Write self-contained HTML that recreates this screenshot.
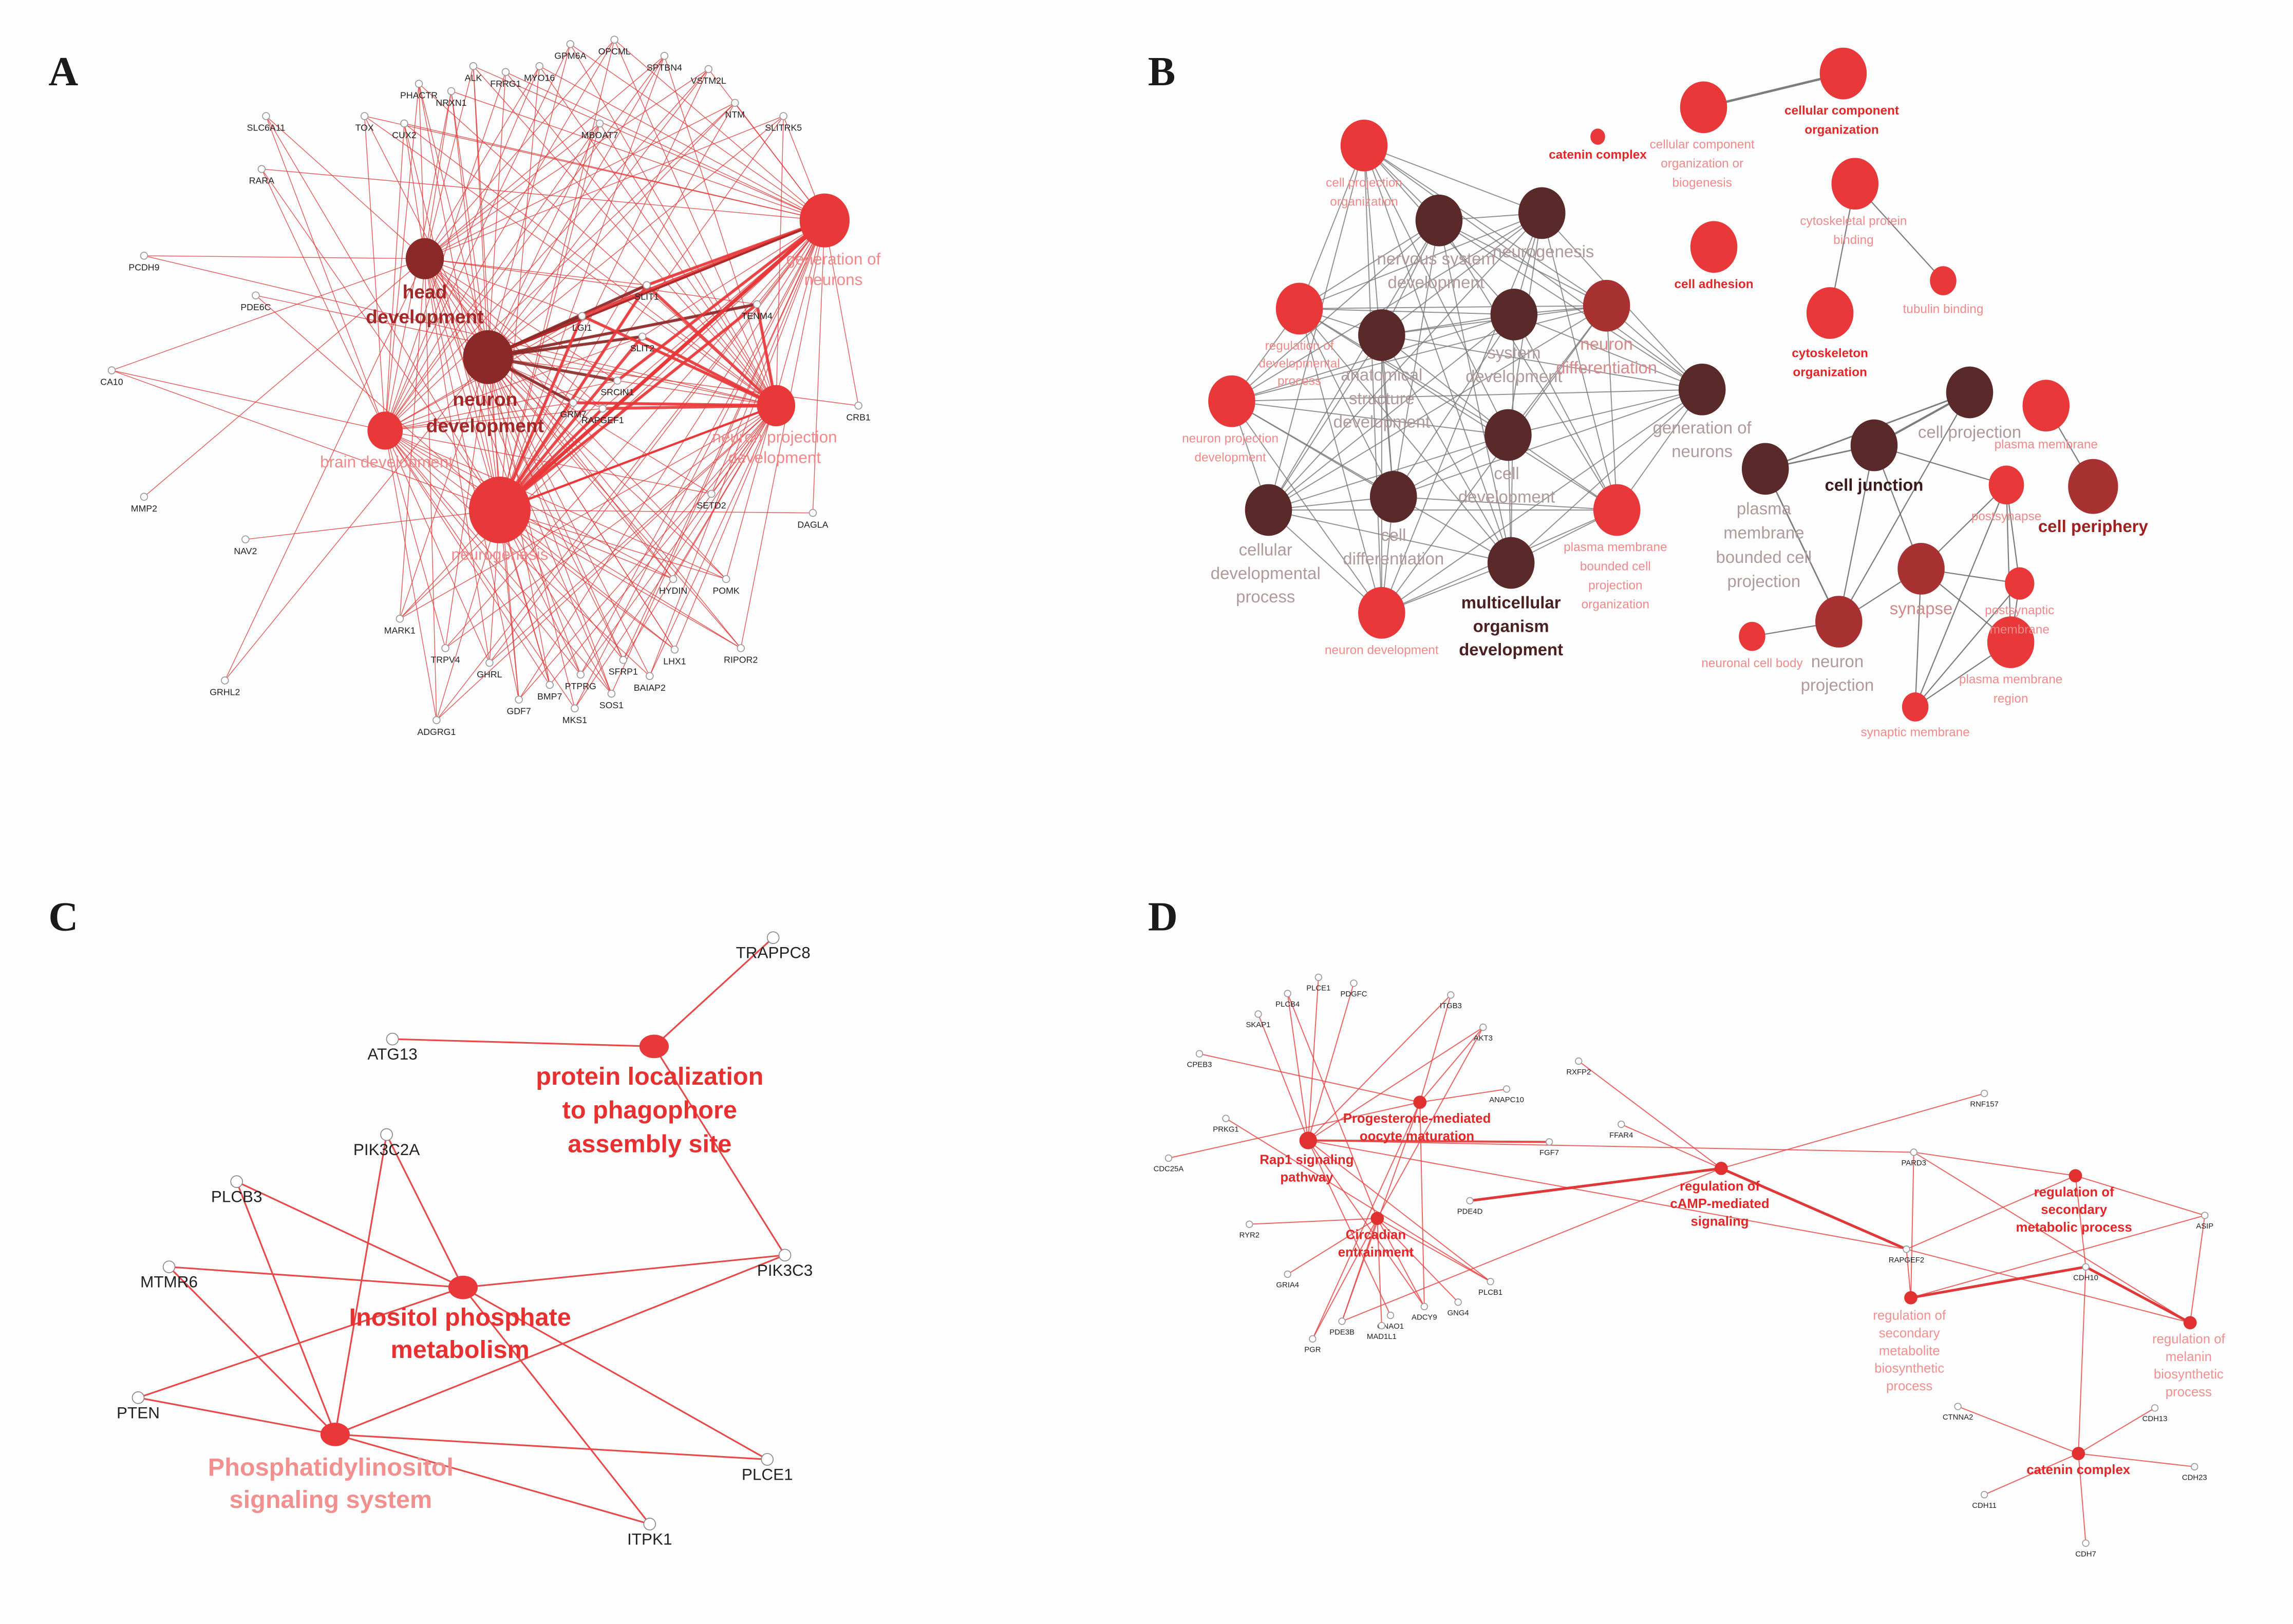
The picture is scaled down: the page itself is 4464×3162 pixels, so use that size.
<!DOCTYPE html>
<html><head><meta charset="utf-8"><style>
html,body{margin:0;padding:0;background:#fdfdfd;}
svg{display:block;}
text{font-family:"Liberation Sans",Arial,sans-serif;}
text.pl{font-family:"Liberation Serif","DejaVu Serif",serif;font-weight:bold;}
</style></head><body>
<svg id="s" xmlns="http://www.w3.org/2000/svg" width="4464" height="3162" viewBox="0 0 1560 1105" preserveAspectRatio="none">
<rect x="0" y="0" width="1560" height="1105" fill="#fdfdfd"/>
<g font-size="28" fill="#1a1a1a">
<text class="pl" x="33" y="58">A</text><text class="pl" x="781" y="58">B</text><text class="pl" x="33" y="633">C</text><text class="pl" x="781" y="633">D</text>
</g>
<g id="g"></g>
</svg>
<script>
var out=[];
function L(x1,y1,x2,y2,c,w,o){out.push('<line x1="'+x1+'" y1="'+y1+'" x2="'+x2+'" y2="'+y2+'" stroke="'+c+'" stroke-width="'+w+'" stroke-opacity="'+(o||1)+'"/>');}
function C(x,y,r,f,s){out.push('<circle cx="'+x+'" cy="'+y+'" r="'+r+'" fill="'+f+'"'+(s?' stroke="'+s+'" stroke-width="0.6"':'')+'/>');}
function T(x,y,t,sz,c,b){out.push('<text x="'+x+'" y="'+y+'" font-size="'+sz+'" fill="'+c+'" text-anchor="middle"'+(b?' font-weight="bold"':'')+'>'+t+'</text>');}
function ML(x,y,lines,sz,c,b,lh){for(var i=0;i<lines.length;i++)T(x,y+i*lh,lines[i],sz,c,b);}
var RED='#e8383a',DARK='#5a2a2a',MED='#a83232';
/* ---------- Panel A ---------- */
var hubs=[[289,176,13,'#8b2828'],[332,243,17,'#8b2828'],[561,150,17,RED],[528,276,13,RED],[262,293,12,RED],[340,347,21,RED]];
var genes=[['GPM6A',388,30],['OPCML',418,27],['SPTBN4',452,38],['VSTM2L',482,47],['ALK',322,45],['FRRG1',344,49],['MYO16',367,45],['PHACTR',285,57],['NRXN1',307,62],['SLC6A11',181,79],['TOX',248,79],['CUX2',275,84],['MBOAT7',408,84],['NTM',500,70],['SLITRK5',533,79],['RARA',178,115],['PCDH9',98,174],['PDE6C',174,201],['CA10',76,252],['MMP2',98,338],['NAV2',167,367],['GRHL2',153,463],['LGI1',396,215],['SLIT1',440,194],['TENM4',515,207],['SLIT2',437,229],['SRCIN1',420,259],['GRM7',390,274],['RAPGEF1',410,278],['CRB1',584,276],['SETD2',484,336],['DAGLA',553,349],['HYDIN',458,394],['POMK',494,394],['MARK1',272,421],['TRPV4',303,441],['GHRL',333,451],['LHX1',459,442],['RIPOR2',504,441],['SFRP1',424,449],['BAIAP2',442,460],['PTPRG',395,459],['BMP7',374,466],['SOS1',416,472],['GDF7',353,476],['MKS1',391,482],['ADGRG1',297,490]];
var sparse={PCDH9:[0,3],CA10:[0,4,5],MMP2:[0],NAV2:[5],GRHL2:[0,1],PDE6C:[3,5],DAGLA:[5,2],CRB1:[2,1],SLC6A11:[4,5,0],RARA:[2,4,5]};
for(var i=0;i<genes.length;i++){var g=genes[i];var hs=sparse[g[0]];
 if(!hs){hs=[];for(var h=0;h<6;h++){if(((i*7+h*3)%5)!=0)hs.push(h);}}
 for(var k=0;k<hs.length;k++){var H=hubs[hs[k]];L(g[1],g[2],H[0],H[1],'#e23c3c',0.5,0.85);}
}
var thick=[[1,'LGI1','#8b2828'],[1,'SLIT2','#8b2828'],[1,'TENM4','#8b2828'],[1,'SRCIN1','#8b2828'],[1,'GRM7','#8b2828'],[1,'SLIT1','#8b2828'],[2,'SLIT1',RED],[2,'LGI1',RED],[5,'SLIT1',RED],[5,'LGI1',RED],[5,'SLIT2',RED],[3,'RAPGEF1',RED],[3,'GRM7',RED],[3,'SLIT2',RED],[3,'LGI1',RED],[3,'SLIT1',RED],[5,'TENM4',RED],[2,'SRCIN1',RED],[3,'TENM4',RED],[5,'RAPGEF1',RED]];
function gp(n){for(var i=0;i<genes.length;i++)if(genes[i][0]==n)return genes[i];}
thick.forEach(function(t){var H=hubs[t[0]],g=gp(t[1]);L(H[0],H[1],g[1],g[2],t[2],2,0.9);});
L(340,347,561,150,RED,2.5);L(340,347,528,276,RED,1.5);L(332,243,561,150,'#b02a2a',1.5);
genes.forEach(function(g){C(g[1],g[2],2.4,'#fff','#999');T(g[1],g[2]+10,g[0],6.2,'#222');});
hubs.forEach(function(h){out.push('<ellipse cx="'+h[0]+'" cy="'+h[1]+'" rx="'+h[2]+'" ry="'+(h[2]*1.08)+'" fill="'+h[3]+'"/>');});
ML(289,203,['head','development'],13,'#a02828',true,17);
ML(330,276,['neuron','development'],13,'#a02828',true,18);
ML(567,180,['generation of','neurons'],11,'#f08a8a',false,14);
ML(527,301,['neuron projection','development'],11,'#f08a8a',false,14);
T(263,318,'brain development',11,'#f08a8a');
T(340,381,'neurogenesis',11,'#f08a8a');
/* ---------- Panel B ---------- */
var B={cco:[1254,50,16,RED],ccob:[1159,73,16,RED],cat:[1087,93,5,RED],cpo:[928,99,16,RED],cpb:[1262,125,16,RED],ca:[1166,168,16,RED],tb:[1322,191,9,RED],cyo:[1245,213,16,RED],
nsd:[979,150,16,DARK],ng:[1049,145,16,DARK],rdp:[884,210,16,RED],asd:[940,228,16,DARK],sd:[1030,214,16,DARK],nd:[1093,208,16,MED],gn:[1158,265,16,DARK],npd:[838,273,16,RED],cd:[1026,296,16,DARK],cdf:[948,338,16,DARK],cdp:[863,347,16,DARK],pmb:[1100,347,16,RED],ndv:[940,417,16,RED],mod:[1028,383,16,DARK],
cp:[1340,267,16,DARK],pm:[1392,276,16,RED],cj:[1275,303,16,DARK],pbcp:[1201,319,16,DARK],ps:[1365,330,12,RED],cper:[1424,331,17,MED],syn:[1307,387,16,MED],psm:[1374,397,10,RED],np:[1251,423,16,MED],pmr:[1368,437,16,RED],ncb:[1192,433,9,RED],sm:[1303,481,9,RED]};
var dense=['cpo','nsd','ng','rdp','asd','sd','nd','gn','npd','cd','cdf','cdp','pmb','ndv','mod'];
for(var a=0;a<dense.length;a++)for(var b=a+1;b<dense.length;b++){if((a*5+b*3)%4==0)continue;var p=B[dense[a]],q=B[dense[b]];L(p[0],p[1],q[0],q[1],'#777',0.7,0.8);}
[['cco','ccob',1.6],['cpb','cyo',0.8],['cpb','tb',0.8],['cp','cj',1.4],['cp','pbcp',1],['cj','pbcp',1],['cj','syn',0.8],['cj','ps',0.8],['cp','np',0.8],['pbcp','np',1],['np','syn',0.8],['np','ncb',0.8],['np','cj',0.8],['syn','ps',0.8],['syn','psm',0.8],['syn','sm',0.8],['ps','psm',0.8],['ps','pmr',0.8],['ps','sm',0.8],['psm','sm',0.8],['pmr','sm',0.8],['pmr','syn',0.8],['pm','cper',0.8],['psm','pmr',0.8]].forEach(function(e){var p=B[e[0]],q=B[e[1]];L(p[0],p[1],q[0],q[1],'#666',e[2],0.85);});
for(var k in B){var n=B[k];out.push('<ellipse cx="'+n[0]+'" cy="'+n[1]+'" rx="'+n[2]+'" ry="'+(n[2]*1.1)+'" fill="'+n[3]+'"/>');}
var PK='#f08a8a',GR='#b09a9a',BR='#e02828';
ML(1253,78,['cellular component','organization'],8.5,BR,true,13);
ML(1158,101,['cellular component','organization or','biogenesis'],8.5,PK,false,13);
T(1087,108,'catenin complex',8.5,BR,true);
ML(928,127,['cell projection','organization'],8.5,PK,false,13);
ML(1261,153,['cytoskeletal protein','binding'],8.5,PK,false,13);
T(1166,196,'cell adhesion',8.5,BR,true);
T(1322,213,'tubulin binding',8.5,PK);
ML(1245,243,['cytoskeleton','organization'],8.5,BR,true,13);
ML(977,180,['nervous system','development'],11.5,GR,false,16);
T(1050,175,'neurogenesis',11.5,GR);
ML(884,238,['regulation of','developmental','process'],8.5,PK,false,12);
ML(940,259,['anatomical','structure','development'],11.5,GR,false,16);
ML(1030,244,['system','development'],11.5,GR,false,16);
ML(1093,238,['neuron','differentiation'],11.5,'#d88a8a',false,16);
ML(1158,295,['generation of','neurons'],11.5,GR,false,16);
ML(837,301,['neuron projection','development'],8.5,PK,false,13);
ML(1025,326,['cell','development'],11.5,GR,false,16);
ML(948,368,['cell','differentiation'],11.5,GR,false,16);
ML(861,378,['cellular','developmental','process'],11.5,GR,false,16);
ML(1099,375,['plasma membrane','bounded cell','projection','organization'],8.5,PK,false,13);
T(940,445,'neuron development',8.5,PK);
ML(1028,414,['multicellular','organism','development'],11.5,'#4a2020',true,16);
T(1340,298,'cell projection',11.5,GR);
T(1392,305,'plasma membrane',8.5,PK);
T(1275,334,'cell junction',11.5,'#3a1a1a',true);
ML(1200,350,['plasma','membrane','bounded cell','projection'],11.5,GR,false,16.5);
T(1365,354,'postsynapse',8.5,PK);
T(1424,362,'cell periphery',11.5,'#a02020',true);
T(1307,418,'synapse',11.5,'#d08a8a');
ML(1374,418,['postsynaptic','membrane'],8.5,PK,false,13);
ML(1250,454,['neuron','projection'],11.5,GR,false,16);
ML(1368,465,['plasma membrane','region'],8.5,PK,false,13);
T(1192,454,'neuronal cell body',8.5,PK);
T(1303,501,'synaptic membrane',8.5,PK);
/* ---------- Panel C ---------- */
var CN={prot:[445,712],ino:[315,876],pis:[228,976]};
var CG={TRAPPC8:[526,638],ATG13:[267,707],PIK3C2A:[263,772],PLCB3:[161,804],MTMR6:[115,862],PIK3C3:[534,854],PTEN:[94,951],PLCE1:[522,993],ITPK1:[442,1037]};
[['ATG13','prot'],['TRAPPC8','prot'],['PIK3C3','prot'],['PIK3C2A','ino'],['PIK3C2A','pis'],['PLCB3','ino'],['PLCB3','pis'],['MTMR6','ino'],['MTMR6','pis'],['PTEN','ino'],['PTEN','pis'],['PIK3C3','ino'],['PIK3C3','pis'],['PLCE1','ino'],['PLCE1','pis'],['ITPK1','ino'],['ITPK1','pis']].forEach(function(e){var p=CG[e[0]],q=CN[e[1]];L(p[0],p[1],q[0],q[1],'#e84848',1.1);});
for(var k in CG){var p=CG[k];C(p[0],p[1],4,'#fff','#888');T(p[0],p[1]+14,k,11,'#222');}
out.push('<ellipse cx="445" cy="712" rx="10" ry="8" fill="'+RED+'"/><ellipse cx="315" cy="876" rx="10" ry="8" fill="'+RED+'"/><ellipse cx="228" cy="976" rx="10" ry="8" fill="'+RED+'"/>');
ML(442,738,['protein localization','to phagophore','assembly site'],17,'#e83030',true,23);
ML(313,902,['Inositol phosphate','metabolism'],17,'#e83030',true,22);
ML(225,1004,['Phosphatidylinositol','signaling system'],17,'#f29090',true,22);
/* ---------- Panel D ---------- */
var DN={rap:[890,776,6],prog:[966,750,4.5],circ:[937,829,4.5],camp:[1171,795,4.5],rsmp:[1412,800,4.5],rsmb:[1300,883,4.5],mel:[1490,900,4.5],cat:[1414,989,4.5]};
var DG={PLCB4:[876,676],PLCE1:[897,665],PDGFC:[921,669],ITGB3:[987,677],SKAP1:[856,690],AKT3:[1009,699],CPEB3:[816,717],ANAPC10:[1025,741],RXFP2:[1074,722],RNF157:[1350,744],PRKG1:[834,761],FFAR4:[1103,765],FGF7:[1054,777],CDC25A:[795,788],PARD3:[1302,784],PDE4D:[1000,817],RYR2:[850,833],RAPGEF2:[1297,850],ASIP:[1500,827],CDH10:[1419,862],GRIA4:[876,867],PLCB1:[1014,872],GNG4:[992,886],ADCY9:[969,889],GNAO1:[946,895],PDE3B:[913,899],MAD1L1:[940,902],PGR:[893,911],CTNNA2:[1332,957],CDH13:[1466,958],CDH23:[1493,998],CDH11:[1350,1017],CDH7:[1419,1050]};
[['PLCB4','rap'],['PLCE1','rap'],['PDGFC','rap'],['ITGB3','rap'],['AKT3','rap'],['SKAP1','rap'],['CDC25A','prog'],['CPEB3','prog'],['ANAPC10','prog'],['FGF7','rap'],['RAPGEF2','rap'],['PARD3','rap'],['PLCB1','rap'],['GNAO1','rap'],['ADCY9','rap'],['PLCB4','circ'],['RYR2','circ'],['GRIA4','circ'],['PGR','circ'],['PDE3B','circ'],['MAD1L1','circ'],['GNG4','circ'],['ADCY9','circ'],['PLCB1','circ'],['AKT3','circ'],['ADCY9','prog'],['PGR','prog'],['PDE3B','prog'],['AKT3','prog'],['ITGB3','prog'],['PRKG1','PLCB1x'],['PDE3B','camp'],['RXFP2','camp'],['FFAR4','camp'],['RNF157','camp'],['PARD3','rsmp'],['PARD3','rsmb'],['PARD3','mel'],['RAPGEF2','rsmb'],['RAPGEF2','mel'],['RAPGEF2','rsmp'],['ASIP','rsmp'],['ASIP','mel'],['ASIP','rsmb'],['CDH10','rsmp'],['CDH10','cat'],['CTNNA2','cat'],['CDH13','cat'],['CDH23','cat'],['CDH11','cat'],['CDH7','cat']].forEach(function(e){var p=DG[e[0]],q=DN[e[1]]||DG['PLCB1'];L(p[0],p[1],q[0],q[1],'#e84848',0.7,0.85);});
L(1000,817,1171,795,'#e03838',1.8);L(1171,795,1297,850,'#e03838',1.8);L(1300,883,1419,862,'#e03838',1.8);L(1419,862,1490,900,'#e03838',1.8);L(890,776,1054,777,'#e84848',1.4);
for(var k in DG){var p=DG[k];C(p[0],p[1],2.2,'#fff','#999');T(p[0],p[1]+9,k,5.2,'#222');}
for(var k in DN){var n=DN[k];C(n[0],n[1],n[2],'#e03030');}
var DR='#e02828',DP='#f29090';
ML(889,792,['Rap1 signaling','pathway'],9,DR,true,12);
ML(964,764,['Progesterone-mediated','oocyte maturation'],9,DR,true,12);
ML(936,843,['Circadian','entrainment'],9,DR,true,12);
ML(1170,810,['regulation of','cAMP-mediated','signaling'],9,DR,true,12);
ML(1411,814,['regulation of','secondary','metabolic process'],9,DR,true,12);
ML(1299,898,['regulation of','secondary','metabolite','biosynthetic','process'],9,DP,false,12);
ML(1489,914,['regulation of','melanin','biosynthetic','process'],9,DP,false,12);
T(1414,1003,'catenin complex',9,DR,true);
document.getElementById('g').innerHTML=out.join('');
</script>
</body></html>
